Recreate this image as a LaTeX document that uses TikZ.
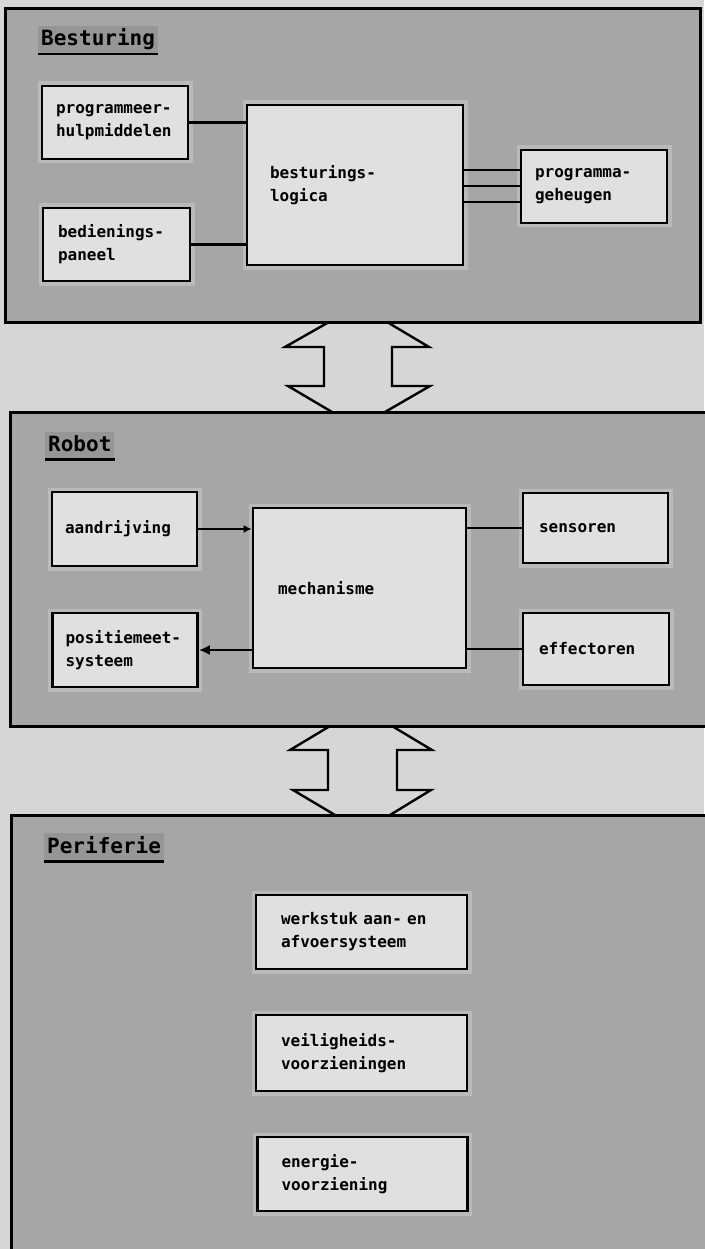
\documentclass[tikz,border=0pt]{standalone}
\usepackage{fontspec}
\setmonofont{DejaVu Sans Mono}
\usetikzlibrary{arrows.meta}

\definecolor{papier}{RGB}{214,214,214}
\definecolor{raster}{RGB}{166,166,166}
\definecolor{rasterdonker}{RGB}{150,150,150}
\definecolor{blokvlak}{RGB}{224,224,224}
\definecolor{blokrand}{RGB}{186,186,186}

\tikzset{
    paneel/.style={draw, line width=3pt, fill=raster},
    titel/.style={anchor=base west, fill=rasterdonker, inner sep=3pt, text depth=5pt,
        font=\ttfamily\bfseries\fontsize{21}{21}\selectfont},
    onderlijn/.style={line width=2.6pt},
    blok/.style={draw, line width=2.6pt, fill=blokvlak, preaction={draw=blokrand, line width=9pt},
        align=left, inner xsep=15pt, inner ysep=0pt,
        font=\ttfamily\bfseries\fontsize{16}{23}\selectfont},
    lijn/.style={line width=2.4pt},
    dunlijn/.style={line width=2pt},
    dubbelpijl/.style={line width=2.4pt, line join=miter}
}

\begin{document}
\begin{tikzpicture}[x=1pt, y=-1pt]%% start picture
    \useasboundingbox (0, 0) rectangle (704, 1249);
    \fill[papier] (0, 0) rectangle (704, 1249);


        \draw[paneel] (5, 9) rectangle (700, 322);
            \node[titel] (besturing) at (38, 46){Besturing};
            \draw[onderlijn] (besturing.south west) to (besturing.south east);

            \node[blok, inner xsep=14pt, text width=118pt, minimum height=73pt] (hulp) at (115, 122.5){programmeer-\\hulpmiddelen};
            \node[blok, text width=117pt, minimum height=73pt] (bediening) at (116.5, 244.5){bedienings-\\paneel};
            \node[blok, inner xsep=23pt, text width=170pt, minimum height=160pt] (logica) at (355, 185){besturings-\\logica};
            \node[blok, inner xsep=14pt, text width=118pt, minimum height=73pt] (geheugen) at (594, 186.5){programma-\\geheugen};

                \draw[lijn] (hulp.east) to (hulp.east -| logica.west);
                \draw[lijn] (bediening.east) to (bediening.east -| logica.west);
                \draw[dunlijn] ([yshift=16pt]geheugen.west) to ([yshift=16pt]geheugen.west -| logica.east);
                \draw[dunlijn] (geheugen.west) to (geheugen.west -| logica.east);
                \draw[dunlijn] ([yshift=-16pt]geheugen.west) to ([yshift=-16pt]geheugen.west -| logica.east);


        \draw[paneel] (10, 412) rectangle (715, 726);
            \node[titel] (robot) at (45, 451){Robot};
            \draw[onderlijn] (robot.south west) to (robot.south east);

            \node[blok, inner xsep=13pt, text width=119pt, minimum height=74pt] (aandrijving) at (124.5, 529){aandrijving};
            \node[blok, inner xsep=13pt, text width=119pt, minimum height=74pt] (positie) at (125, 650){positiemeet-\\systeem};
            \node[blok, inner xsep=25pt, text width=163pt, minimum height=160pt] (mechanisme) at (359.5, 588){mechanisme};
            \node[blok, inner xsep=16pt, text width=113pt, minimum height=70pt] (sensoren) at (595.5, 528){sensoren};
            \node[blok, inner xsep=16pt, text width=114pt, minimum height=72pt] (effectoren) at (596, 649){effectoren};

                \draw[lijn, -{Latex[length=8pt, width=8pt]}] (aandrijving.east) to (aandrijving.east -| mechanisme.west);
                \draw[lijn, -{Latex[length=11pt, width=10pt]}] (positie.east -| mechanisme.west) to (positie.east);
                \draw[lijn] (sensoren.west) to (sensoren.west -| mechanisme.east);
                \draw[lijn] (effectoren.west) to (effectoren.west -| mechanisme.east);


        \draw[paneel] (11, 815) rectangle (715, 1270);
            \node[titel] (periferie) at (44, 853){Periferie};
            \draw[onderlijn] (periferie.south west) to (periferie.south east);

            \node[blok, inner xsep=25pt, text width=161pt, minimum height=74pt] (werkstuk) at (361.5, 932){werkstuk aan- en\\afvoersysteem};
            \node[blok, inner xsep=25pt, text width=161pt, minimum height=76pt] (veiligheid) at (361.5, 1053){veiligheids-\\voorzieningen};
            \node[blok, inner xsep=24pt, text width=162pt, minimum height=74pt] (energie) at (362.5, 1174){energie-\\voorziening};


        \draw[dubbelpijl] (329, 322) -- (285, 347) -- (324, 347) -- (324, 386) -- (288, 386) -- (332, 412);
        \draw[dubbelpijl] (387, 322) -- (429, 347) -- (392, 347) -- (392, 386) -- (430, 386) -- (385, 412);

        \draw[dubbelpijl] (330, 726) -- (290, 750) -- (328, 750) -- (328, 790) -- (293, 790) -- (335, 815);
        \draw[dubbelpijl] (392, 726) -- (432, 750) -- (397, 750) -- (397, 790) -- (431, 790) -- (390, 815);

\end{tikzpicture}
\end{document}
